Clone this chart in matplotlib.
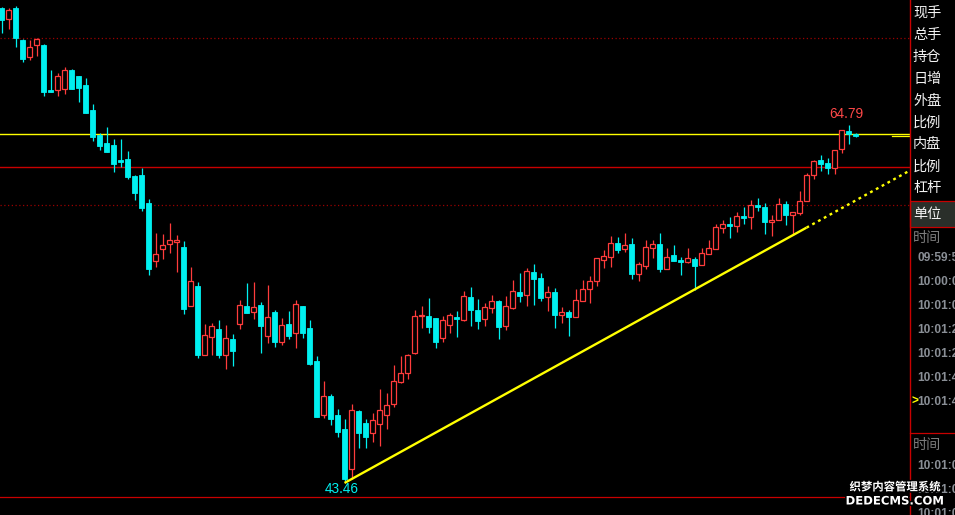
import matplotlib
matplotlib.use('Agg')
import matplotlib.pyplot as plt
import matplotlib.patheffects as pe
from matplotlib.patches import Rectangle
import numpy as np

# ---------------- data ----------------
opens = [71.80, 71.16, 71.80, 69.88, 68.88, 69.60, 69.58, 66.89, 66.91, 66.97,
         68.09, 67.73, 67.19, 65.69, 64.19, 63.71, 63.59, 62.69, 62.75, 61.73,
         61.79, 60.12, 56.66, 57.38, 57.64, 57.80, 57.48, 53.96, 55.12, 51.03,
         52.11, 52.55, 51.03, 51.95, 52.85, 53.94, 53.60, 54.00, 52.17, 53.59,
         51.81, 52.87, 52.34, 53.94, 52.63, 50.65, 47.43, 48.55, 47.41, 46.57,
         44.16, 47.65, 46.93, 46.35, 46.89, 47.43, 48.09, 49.41, 49.95, 51.13,
         53.35, 53.35, 53.23, 52.03, 52.81, 53.29, 53.11, 54.48, 53.71, 53.17,
         53.82, 54.24, 52.75, 53.82, 54.78, 54.62, 55.98, 55.62, 54.50, 54.78,
         53.41, 53.59, 53.29, 54.24, 54.96, 55.46, 56.70, 56.90, 57.72, 57.38,
         57.66, 55.86, 56.36, 57.44, 57.66, 56.18, 57.00, 56.70, 56.60, 56.76,
         56.42, 57.08, 57.38, 58.64, 58.86, 58.76, 59.34, 59.30, 60.00, 59.88,
         59.00, 59.12, 60.06, 59.42, 59.54, 60.25, 61.81, 62.69, 62.51, 62.20,
         63.35, 64.43, 64.25]
highs = [71.86, 71.80, 71.94, 69.94, 69.88, 70.00, 69.62, 68.09, 67.92, 68.27,
         68.12, 67.75, 67.61, 66.05, 64.31, 64.67, 63.95, 63.95, 63.23, 61.79,
         62.21, 60.36, 58.32, 58.26, 58.92, 58.18, 57.84, 56.26, 55.36, 52.85,
         52.91, 53.09, 52.79, 52.25, 54.29, 55.32, 55.38, 54.17, 55.20, 53.69,
         53.21, 53.65, 54.30, 53.96, 53.11, 50.95, 49.45, 48.67, 47.77, 47.17,
         48.07, 47.71, 47.17, 47.53, 48.97, 48.73, 50.41, 50.95, 51.07, 53.71,
         53.94, 54.42, 53.25, 53.35, 53.53, 53.65, 54.84, 55.08, 54.36, 54.12,
         54.60, 54.30, 54.54, 55.50, 55.92, 56.22, 56.46, 55.92, 55.14, 55.02,
         53.89, 53.71, 54.96, 55.50, 55.74, 56.84, 57.30, 58.14, 58.08, 58.32,
         58.02, 56.58, 57.90, 57.90, 58.32, 57.42, 57.60, 56.88, 57.42, 56.88,
         57.42, 57.90, 58.86, 59.10, 59.28, 59.58, 59.88, 60.30, 60.42, 60.12,
         59.40, 60.42, 60.24, 59.60, 60.81, 61.90, 62.69, 62.99, 62.81, 63.31,
         64.49, 64.79, 64.31]
lows = [70.32, 70.54, 69.48, 68.57, 68.69, 68.92, 66.53, 66.75, 66.53, 66.65,
        66.93, 66.17, 65.49, 63.83, 63.29, 63.15, 61.97, 62.27, 61.55, 60.30,
        59.64, 55.82, 56.30, 56.78, 57.14, 56.00, 53.48, 53.94, 50.85, 51.01,
        51.03, 50.85, 50.19, 50.37, 52.58, 53.51, 53.18, 51.15, 51.75, 51.51,
        51.61, 51.99, 51.45, 52.05, 50.43, 47.29, 47.25, 46.83, 46.11, 43.46,
        43.56, 45.45, 45.45, 45.81, 45.57, 46.59, 47.91, 49.35, 49.59, 51.09,
        52.63, 52.33, 51.43, 51.79, 52.33, 52.09, 53.05, 52.75, 52.57, 52.75,
        53.53, 51.97, 52.51, 53.76, 54.18, 53.94, 54.00, 54.24, 53.65, 52.63,
        52.93, 52.15, 53.27, 54.22, 54.12, 55.16, 56.22, 56.28, 57.12, 57.18,
        55.56, 55.44, 56.16, 56.82, 55.98, 56.16, 56.62, 55.80, 56.54, 54.90,
        56.40, 57.06, 57.36, 58.32, 58.02, 58.38, 58.86, 58.56, 59.64, 58.26,
        58.14, 59.10, 58.80, 58.20, 59.42, 60.22, 61.57, 62.05, 61.87, 61.85,
        63.13, 63.65, 64.07]
closes = [71.10, 71.66, 70.02, 68.74, 69.45, 69.93, 66.77, 66.77, 67.73, 68.09,
          66.95, 67.01, 65.51, 64.07, 63.53, 63.17, 62.45, 62.57, 61.67, 60.72,
          59.82, 56.16, 57.04, 57.58, 57.88, 57.88, 53.78, 55.42, 51.03, 52.19,
          52.73, 51.03, 52.01, 51.27, 53.99, 53.53, 53.87, 52.76, 53.27, 51.81,
          52.79, 52.17, 54.06, 52.34, 50.49, 47.31, 48.55, 47.19, 46.41, 43.56,
          47.71, 46.35, 46.11, 47.11, 47.71, 48.01, 49.45, 49.93, 51.01, 53.35,
          53.41, 52.69, 51.79, 53.11, 53.41, 53.17, 54.54, 53.71, 53.05, 53.89,
          54.24, 52.69, 53.94, 54.84, 54.54, 56.04, 55.56, 54.42, 54.78, 53.41,
          53.59, 53.29, 54.30, 54.96, 55.44, 56.82, 56.94, 57.72, 57.30, 57.58,
          55.86, 56.46, 57.48, 57.66, 56.16, 56.88, 56.64, 56.58, 56.82, 56.34,
          57.12, 57.42, 58.68, 58.86, 58.74, 59.34, 59.22, 60.00, 59.88, 58.98,
          59.10, 60.06, 59.40, 59.58, 60.24, 61.79, 62.63, 62.47, 62.21, 63.29,
          64.47, 64.25, 64.13]

price_line = 64.25          # yellow horizontal line
ref_line = 62.27            # red horizontal line
dotted_levels = [70.0, 60.0]
trend_idx = [49, 115]       # trend line anchors (bar index)
trend_val = [43.34, 58.64]
trend_ext_idx = 129.6

side_labels = ['现手', '总手', '持仓', '日增', '外盘', '比例', '内盘', '比例', '杠杆']
unit_label = '单位'
time_header = '时间'
times_top = ['09:59:5', '10:00:0', '10:01:0', '10:01:2', '10:01:2', '10:01:4', '10:01:4']
times_bottom = ['10:01:0', '10:01:0', '10:01:0']
watermark = ['织梦内容管理系统', 'DEDECMS.COM']

# ---------------- styling ----------------
RED = '#ff3c3c'
CYAN = '#00f0f0'
YELLOW = '#ffff00'
LINE_RED = '#c80000'
DOT_RED = '#9a0000'
CJK = ['Noto Sans CJK SC', 'DejaVu Sans']

W, H = 955, 515
fig = plt.figure(figsize=(W / 100, H / 100), dpi=100, facecolor='black')

# ---------------- main candlestick axes ----------------
ax = fig.add_axes([0, 18 / H, 910 / W, 497 / H])
ax.set_facecolor('black')
ax.set_xlim(-1.5 / 7, (910 - 1.5) / 7)
ax.set_ylim(42.50, 72.28)
for s in ax.spines.values():
    s.set_visible(False)
ax.set_xticks([])
ax.set_yticks([])

o = np.array(opens); h = np.array(highs); l = np.array(lows); c = np.array(closes)
x = np.arange(len(o))
up = c >= o

# horizontal reference lines
for lv in dotted_levels:
    ax.axhline(lv, color=DOT_RED, lw=0.9, ls=(0, (1, 2)), zorder=1)
ax.axhline(ref_line, color=LINE_RED, lw=1.0, zorder=1)
ax.axhline(price_line, color=YELLOW, lw=1.0, zorder=1)
ax.plot([127.2, trend_ext_idx + 0.2], [closes[-1], closes[-1]], color=YELLOW, lw=0.9, zorder=1)

# wicks
ax.vlines(x[up], l[up], h[up], colors=RED, lw=0.9, zorder=2)
ax.vlines(x[~up], l[~up], h[~up], colors=CYAN, lw=0.9, zorder=2)
# bodies
bottom = np.minimum(o, c)
height = np.maximum(np.abs(c - o), 0.04)
ax.bar(x[up], height[up], bottom=bottom[up], width=0.62, facecolor='black',
       edgecolor=RED, linewidth=0.9, zorder=3)
ax.bar(x[~up], height[~up], bottom=bottom[~up], width=0.62, facecolor=CYAN,
       edgecolor=CYAN, linewidth=0.6, zorder=3)

# trend line (solid part + dotted extension)
ax.plot(trend_idx, trend_val, color=YELLOW, lw=1.7, zorder=4, solid_capstyle='butt')
slope = (trend_val[1] - trend_val[0]) / (trend_idx[1] - trend_idx[0])
ext_val = trend_val[1] + slope * (trend_ext_idx - trend_idx[1])
ax.plot([trend_idx[1], trend_ext_idx], [trend_val[1], ext_val], color=YELLOW,
        lw=1.7, ls=(0, (1.2, 1.6)), zorder=4)

# extreme labels: the low of the move and the highest high after it
i_lo = int(np.argmin(l))
i_hi = i_lo + int(np.argmax(h[i_lo:]))
ax.annotate(f'{h[i_hi]:.2f}', xy=(i_hi, h[i_hi]), xytext=(-2, 4), textcoords='offset pixels',
            ha='center', va='bottom', color='#ff4848', fontsize=9.8, family='Liberation Sans',
            zorder=5)
ax.annotate(f'{l[i_lo]:.2f}', xy=(i_lo, l[i_lo]), xytext=(-3, -1), textcoords='offset pixels',
            ha='center', va='top', color=CYAN, fontsize=9.8, family='Liberation Sans',
            zorder=5)

# ---------------- right-hand panel (pixel overlay) ----------------
oax = fig.add_axes([0, 0, 1, 1])
oax.set_xlim(0, W)
oax.set_ylim(H, 0)
oax.axis('off')

oax.plot([0, 910], [497, 497], color=LINE_RED, lw=0.9)
oax.add_patch(Rectangle((910, 201), 46, 25.5, facecolor='#2a2f2a', edgecolor=LINE_RED, lw=0.9))
oax.plot([910, 910], [0, H], color=LINE_RED, lw=1.0)
oax.plot([910, W], [433, 433], color=LINE_RED, lw=0.9)

for i, lab in enumerate(side_labels):
    oax.text(913, 13 + 21.9 * i, lab, color='#f2f2f2', fontsize=10.2, va='center',
             ha='left', family=CJK)
oax.text(913, 214, unit_label, color='#f2f2f2', fontsize=10.2, va='center', ha='left', family=CJK)
oax.text(913, 238, time_header, color='#7c7c7c', fontsize=10.2, va='center', ha='left', family=CJK)
for i, t in enumerate(times_top):
    oax.text(917, 258 + 24 * i, t, color='#8a8f96', fontsize=8.6, fontweight='bold',
             va='center', ha='left', family='Liberation Sans')
oax.text(911, 402, '>', color=YELLOW, fontsize=8.6, fontweight='bold', va='center',
         ha='left', family='Liberation Sans')
oax.text(913, 445, time_header, color='#7c7c7c', fontsize=10.2, va='center', ha='left', family=CJK)
for i, t in enumerate(times_bottom):
    oax.text(917, 466 + 24 * i, t, color='#8a8f96', fontsize=8.6, fontweight='bold',
             va='center', ha='left', family='Liberation Sans')

# watermark
stroke = [pe.withStroke(linewidth=2.2, foreground='black')]
oax.text(895, 487, watermark[0], color='white', fontsize=8.2, fontweight='bold',
         ha='center', va='center', family=CJK, path_effects=stroke, zorder=6)
oax.text(895, 501, watermark[1], color='white', fontsize=8.4, fontweight='bold',
         ha='center', va='center', family='DejaVu Sans', path_effects=stroke, zorder=6)

fig.savefig('out.png', dpi=100, facecolor='black')
